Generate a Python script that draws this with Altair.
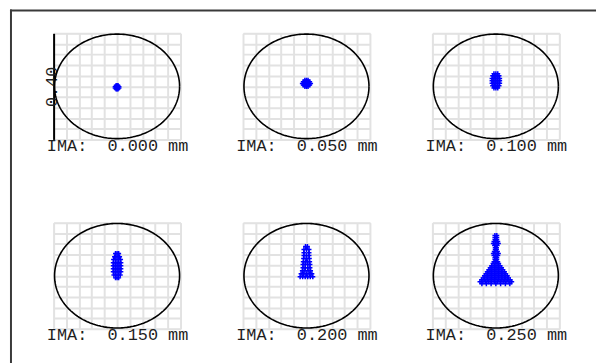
import numpy as np
import pandas as pd
import altair as alt

# ---- texts -------------------------------------------------------------
FIELD_LABELS = ["0.000", "0.050", "0.100", "0.150", "0.200", "0.250"]
UNIT = "mm"
SCALE_BAR = "0.40"

# ---- geometry of the grid (micrometres) ----------------------------------
GRID_HALF_UM = 200
GRID_STEP_UM = 40
AIRY_RADIUS_UM = 197

# ---- spot rays: rows of (y, [x, ...]) in micrometres
SPOT_000 = [(3, [-3, 0, 3]), (-1, [-6, -2, 2, 6]), (-6, [-6, -2, 2, 6]),
            (-10, [-3, 0, 3])]
SPOT_050 = [(23, [-5, 0, 5]), (17, [-10, -3, 3, 10]), (11, [-13, -5, 0, 5, 13]),
            (5, [-10, -3, 3, 10]), (-1, [-5, 0, 5])]
SPOT_100 = [(48, [-6, 0, 6]), (40, [-10, -5, 0, 5, 10]), (30, [-12, -6, 0, 6, 12]),
            (21, [-12, -6, 0, 6, 12]), (12, [-12, -6, 0, 6, 12]),
            (2, [-10, -5, 0, 5, 10]), (-6, [-6, 0, 6])]
SPOT_150 = [(84, [-5, 0, 5]), (72, [-8, 0, 8]), (61, [-11, -4, 4, 11]),
            (49, [-12, -6, 0, 6, 12]), (38, [-12, -6, 0, 6, 12]),
            (26, [-12, -6, 0, 6, 12]), (15, [-12, -6, 0, 6, 12]),
            (3, [-10, -4, 4, 10]), (-8, [-5, 0, 5])]
SPOT_200 = [(110, [-3, 3]), (99, [-8, 0, 8]), (87, [-8, 8]), (76, [-8, 0, 8]),
            (65, [-9, 0, 9]), (53, [-10, -3, 3, 10]), (42, [-11, -4, 4, 11]),
            (30, [-11, -4, 4, 11]), (19, [-13, -5, 5, 13]),
            (8, [-17, -9, 0, 9, 17]), (-4, [-20, -12, -4, 4, 12, 20])]
SPOT_250 = [(152, [-3, 3]), (144, [-3, 3]), (137, [-3, 3]), (129, [-6, 0, 6]),
            (122, [-8, 0, 8]), (114, [-4, 4]), (106, [-2, 2]), (99, [-2, 2]),
            (91, [-5, 5]), (84, [-8, 0, 8]), (76, [-6, 0, 6]), (68, [-3, 3]),
            (61, [-3, 3]), (53, [-6, 0, 6]), (46, [-9, 0, 9]),
            (38, [-13, -4, 4, 13]), (30, [-18, -9, 0, 9, 18]),
            (23, [-22, -13, -4, 4, 13, 22]),
            (15, [-27, -18, -9, 0, 9, 18, 27]),
            (8, [-31, -22, -13, -4, 4, 13, 22, 31]),
            (0, [-36, -27, -18, -9, 0, 9, 18, 27, 36]),
            (-8, [-40, -31, -22, -13, -4, 4, 13, 22, 31, 40]),
            (-15, [-45, -36, -27, -18, -9, 0, 9, 18, 27, 36, 45]),
            (-23, [-50, -41, -32, -23, -14, -5, 5, 14, 23, 32, 41, 50]),
            (-30, [-44, -30, -15, 0, 15, 30, 44])]
SPOTS = [SPOT_000, SPOT_050, SPOT_100, SPOT_150, SPOT_200, SPOT_250]


def spot_frame(rows):
    xs, ys = [], []
    for y, row in rows:
        for x in row:
            xs.append(x)
            ys.append(y)
    return pd.DataFrame({"x": xs, "y": ys})


# Airy disk reference circle (geometry, drawn in data units)
t = np.linspace(0, 2 * np.pi, 241)
airy = pd.DataFrame({"x": AIRY_RADIUS_UM * np.cos(t),
                     "y": AIRY_RADIUS_UM * np.sin(t),
                     "i": np.arange(len(t))})

grid_vals = list(range(-GRID_HALF_UM, GRID_HALF_UM + 1, GRID_STEP_UM))
dom = [-GRID_HALF_UM, GRID_HALF_UM]
FONT = "Liberation Mono"
TEXT_COLOR = "#1e1e1e"
GRID_COLOR = "#e2e2e2"
CROSS = "M-1,0H1M0,-1V1"
NBSP = "\u00a0"
W, H = 128, 107


def panel(k):
    first = k == 0
    scale = alt.Scale(domain=dom, nice=False, zero=False)
    xaxis = alt.Axis(values=grid_vals, labels=False, ticks=False, domain=False,
                     grid=True, gridColor=GRID_COLOR, gridWidth=2,
                     title=f"IMA:{NBSP}{NBSP}{FIELD_LABELS[k]}{NBSP}{UNIT}",
                     titleFont=FONT, titleFontSize=17, titleFontWeight="normal",
                     titleColor=TEXT_COLOR, titlePadding=-2)
    if first:
        yaxis = alt.Axis(values=grid_vals, labels=False, ticks=False, domain=True,
                         domainColor="black", domainWidth=2,
                         grid=True, gridColor=GRID_COLOR, gridWidth=2,
                         title=SCALE_BAR, titleFont=FONT, titleFontSize=17,
                         titleFontWeight="normal", titleColor=TEXT_COLOR,
                         titlePadding=-7)
    else:
        yaxis = alt.Axis(values=grid_vals, labels=False, ticks=False, domain=False,
                         grid=True, gridColor=GRID_COLOR, gridWidth=2, title=None)
    xenc = alt.X("x:Q", scale=scale, axis=xaxis)
    yenc = alt.Y("y:Q", scale=scale, axis=yaxis)

    ring = alt.Chart(airy).mark_line(color="black", strokeWidth=1.6).encode(
        x=xenc, y=yenc, order="i:Q")
    spots = alt.Chart(spot_frame(SPOTS[k])).mark_point(
        shape=CROSS, filled=False, size=25, strokeWidth=1.5,
        color="#0000ff", opacity=1).encode(x=xenc, y=yenc)
    layers = [ring, spots]
    if first:
        one = pd.DataFrame({"k": [0]})
        top = alt.Chart(one).mark_rule(color="#3a3a3a", strokeWidth=2,
                                       strokeCap="square").encode(
            x=alt.value(-43), x2=alt.value(546), y=alt.value(-23))
        left = alt.Chart(one).mark_rule(color="#3a3a3a", strokeWidth=2,
                                        strokeCap="square").encode(
            x=alt.value(-43), y=alt.value(-23), y2=alt.value(334))
        layers += [top, left]
    return alt.layer(*layers).properties(width=W, height=H)


chart = alt.concat(*[panel(k) for k in range(6)], columns=3,
                   spacing={"row": 84, "column": 63}, bounds="flush").properties(
    padding={"left": 1, "top": -1, "right": 0, "bottom": 0},
    background="white",
).configure_view(stroke=None).configure(font=FONT)

chart.save("out.html", embed_options={"renderer": "svg", "actions": False})
